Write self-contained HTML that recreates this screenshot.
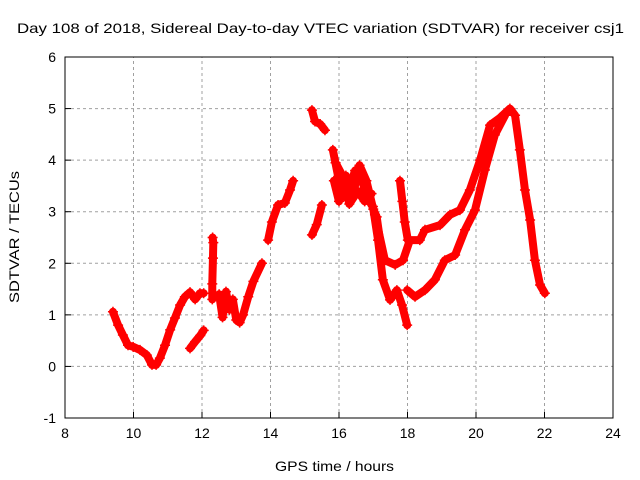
<!DOCTYPE html>
<html><head><meta charset="utf-8"><style>
body{margin:0;background:#fff;}
svg{display:block;font-family:"Liberation Sans",sans-serif;}
</style></head><body>
<svg id="chart" width="640" height="480" viewBox="0 0 640 480">
<rect width="640" height="480" fill="#fff"/>
<text x="17" y="33" font-size="14" textLength="607" lengthAdjust="spacingAndGlyphs">Day 108 of 2018, Sidereal Day-to-day VTEC variation (SDTVAR) for receiver csj1</text>
<g id="grid"></g>
<g id="axes"></g>
<g id="series"></g>
<rect x="65" y="57" width="548" height="361" fill="none" stroke="#000" stroke-width="1"/>
<text x="275" y="471" font-size="14" textLength="119" lengthAdjust="spacingAndGlyphs">GPS time / hours</text>
<text transform="translate(19,303) rotate(-90)" font-size="14" textLength="132" lengthAdjust="spacingAndGlyphs">SDTVAR / TECUs</text>
</svg>
<script>
const xTicks=[8,10,12,14,16,18,20,22,24];
const yTicks=[-1,0,1,2,3,4,5,6];
const segA_t=[9.40,9.55,9.69,9.84,9.99,10.19,10.39,10.54,10.66,10.77,10.92,11.07,11.21,11.36,11.50,11.65,11.80,11.94,12.05];
const segA_v=[1.06,0.80,0.61,0.41,0.38,0.32,0.22,0.03,0.03,0.16,0.41,0.71,0.94,1.19,1.35,1.44,1.30,1.42,1.42];
const segB_t=[11.65,11.80,11.95,12.05];
const segB_v=[0.35,0.48,0.60,0.70];
const segC_t=[12.30,12.30,12.32,12.33,12.31];
const segC_v=[1.30,1.60,2.10,2.40,2.50];
const segD_t=[12.50,12.60,12.70,12.80,12.90,13.00,13.10,13.20,13.35,13.50,13.75];
const segD_v=[1.40,0.95,1.45,1.10,1.30,0.90,0.85,1.00,1.35,1.65,2.00];
const segE_t=[13.93,14.04,14.22,14.42,14.57,14.66];
const segE_v=[2.45,2.80,3.13,3.17,3.42,3.60];
const segF_t=[15.21,15.30,15.45,15.59];
const segF_v=[4.97,4.75,4.70,4.58];
const segG_t=[15.21,15.35,15.50];
const segG_v=[2.55,2.75,3.13];
const segH_t=[15.82,16.03,16.15,16.32,16.47,16.67,16.85,16.99,17.14,17.28,17.49,17.69,17.84,17.99];
const segH_v=[4.20,3.50,3.30,3.50,3.80,3.60,3.23,3.10,2.45,1.68,1.29,1.48,1.19,0.80];
const segI_t=[17.05,17.34,17.64,17.87,18.07,18.36,18.51,18.95,19.24,19.53,19.82,20.12,20.41,20.70,20.99,21.14,21.28,21.43,21.58,21.72,21.87,22.01];
const segI_v=[2.94,2.06,1.97,2.06,2.45,2.45,2.65,2.74,2.94,3.03,3.42,4.00,4.68,4.82,5.00,4.87,4.20,3.42,2.84,2.06,1.58,1.42];
const segJ_t=[17.99,18.22,18.51,18.80,19.09,19.39,19.68,19.97,20.26,20.55,20.85];
const segJ_v=[1.48,1.35,1.48,1.68,2.06,2.16,2.65,3.03,3.81,4.49,4.87];
const segK_t=[17.78,17.85,17.92,18.01];
const segK_v=[3.60,3.20,2.80,2.45];
const segL_t=[15.85,16.00,16.20,16.40,16.60,16.80,17.00,17.10,17.25];
const segL_v=[3.60,3.20,3.70,3.30,3.90,3.60,3.05,2.90,2.20];
const segM_t=[15.90,16.10,16.30,16.55,16.75,16.95];
const segM_v=[3.95,3.70,3.15,3.40,3.20,3.35];
const segments=[[segA_t,segA_v],[segB_t,segB_v],[segC_t,segC_v],[segD_t,segD_v],[segE_t,segE_v],[segF_t,segF_v],[segG_t,segG_v],[segH_t,segH_v],[segI_t,segI_v],[segJ_t,segJ_v],[segK_t,segK_v],[segL_t,segL_v],[segM_t,segM_v]];
const X0=65,X1=613,Y0=418,Y1=57,xmin=8,xmax=24,ymin=-1,ymax=6;
const xs=t=>X0+(t-xmin)/(xmax-xmin)*(X1-X0);
const ys=v=>Y0-(v-ymin)/(ymax-ymin)*(Y0-Y1);
const NS="http://www.w3.org/2000/svg";
const grid=document.getElementById('grid'),axes=document.getElementById('axes'),ser=document.getElementById('series');
function mk(tag,attrs,parent){const e=document.createElementNS(NS,tag);for(const k in attrs)e.setAttribute(k,attrs[k]);parent.appendChild(e);return e;}
xTicks.forEach(t=>{const x=xs(t);
 if(t>xmin&&t<xmax){const g=mk('line',{x1:x,x2:x,y1:Y0,y2:Y1,stroke:'#a0a0a0','stroke-dasharray':'3,3','stroke-width':1},grid);
 
 }
 const tk=mk('line',{x1:x,x2:x,y1:Y0,y2:Y0-6,stroke:'#000'},axes);
 
 
 const tx=mk('text',{x:x,y:Y0+20,'font-size':14,'text-anchor':'middle'},axes);tx.textContent=t;
 
 
});
yTicks.forEach(v=>{const y=ys(v);
 if(v>ymin&&v<ymax){const g=mk('line',{x1:X0,x2:X1,y1:y,y2:y,stroke:'#a0a0a0','stroke-dasharray':'3,3','stroke-width':1},grid);
 
 }
 const tk=mk('line',{x1:X0,x2:X0+6,y1:y,y2:y,stroke:'#000'},axes);
 
 
 const tx=mk('text',{x:X0-9,y:y+5,'font-size':14,'text-anchor':'end'},axes);tx.textContent=v;
 
 
});
segments.forEach(([ts,vs])=>{
 const pts=ts.map((t,i)=>xs(t)+','+ys(vs[i])).join(' ');
 const pl=mk('polyline',{points:pts,fill:'none',stroke:'#ff0000','stroke-width':8,'stroke-linejoin':'round','stroke-linecap':'round'},ser);
 
 
 ts.forEach((t,i)=>{const x=xs(t),y=ys(vs[i]);
  const p=mk('path',{d:`M${x-5},${y}H${x+5}M${x},${y-5}V${y+5}`,stroke:'#ff0000','stroke-width':1.5},ser);
  
  
 });
});
</script>
</body></html>
